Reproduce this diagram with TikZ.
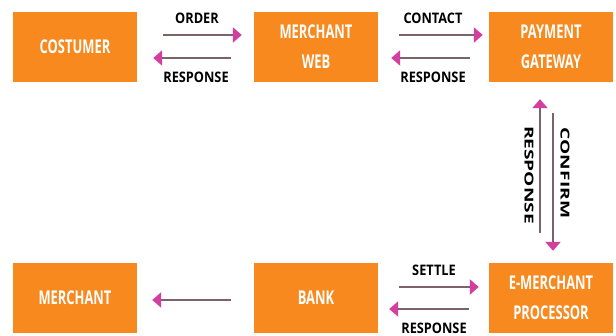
\documentclass[tikz,border=0pt]{standalone}
\usepackage{fontspec}
\usepackage{graphicx}
\setmainfont{Open Sans}
\newfontfamily\boxfont{Open Sans}[FakeStretch=0.68]
\newfontfamily\lblfont{Open Sans}[FakeStretch=0.88]
\usetikzlibrary{arrows.meta,calc}
\definecolor{boxor}{HTML}{F7891F}
\definecolor{lineg}{HTML}{7A6467}
\definecolor{tipm}{HTML}{D43E9E}
\tikzset{
  box/.style={fill=boxor, draw=none, minimum width=124pt, minimum height=70pt, text=white, font=\boxfont\bfseries\fontsize{19}{30}\selectfont, align=center, inner sep=0pt},
  arr/.style={draw=lineg, line width=2.6pt, -{Triangle[length=9pt,width=15pt,color=tipm]}},
  lbl/.style={font=\lblfont\bfseries\fontsize{14.5}{16}\selectfont, text=black, inner sep=0pt}
}
\begin{document}
\begin{tikzpicture}[x=1pt,y=-1pt]
\useasboundingbox (0,0) rectangle (616,336);
\node[box] (cost) at (75,47) {COSTUMER};
\node[box] (mweb) at (316,47) {MERCHANT\\WEB};
\node[box] (pgw) at (551,47) {PAYMENT\\GATEWAY};
\node[box] (merch) at (75,298) {MERCHANT};
\node[box] (bank) at (316,298) {BANK};
\node[box] (emp) at (551,298) {E-MERCHANT\\PROCESSOR};
% top left
\draw[arr] ($(cost.east)+(26,-12)$) -- ($(mweb.west)+(-12,-12)$);
\draw[arr] ($(mweb.west)+(-23,11)$) -- ($(cost.east)+(16,11)$);
\node[lbl] (l1) at (197,18) {ORDER};
\node[lbl] (l2) at (196,77) {RESPONSE};
% top right
\draw[arr] ($(mweb.east)+(21,-12)$) -- ($(pgw.west)+(-6,-12)$);
\draw[arr] ($(pgw.west)+(-19,11)$) -- ($(mweb.east)+(13,11)$);
\node[lbl] (l3) at (433,18) {CONTACT};
\node[lbl] (l4) at (433,77) {RESPONSE};
% vertical
\draw[arr] ($(emp.north)+(-11,-30)$) -- ($(pgw.south)+(-11,17)$);
\draw[arr] ($(pgw.south)+(2,31)$) -- ($(emp.north)+(2,-12)$);
\node[lbl, rotate=-90] (l5) at (529,175) {\scalebox{1.5}[0.85]{RESPONSE}};
\node[lbl, rotate=-90] (l6) at (565,173) {\scalebox{1.5}[0.85]{CONFIRM}};
% bottom right
\draw[arr] ($(bank.east)+(21,-11)$) -- ($(emp.west)+(-10,-11)$);
\draw[arr] ($(emp.west)+(-20,11)$) -- ($(bank.east)+(11,11)$);
\node[lbl] (l7) at (434,270) {SETTLE};
\node[lbl] (l8) at (434,328) {RESPONSE};
% bottom left
\draw[arr] ($(bank.west)+(-23,2)$) -- ($(merch.east)+(15,2)$);
\end{tikzpicture}
\end{document}
